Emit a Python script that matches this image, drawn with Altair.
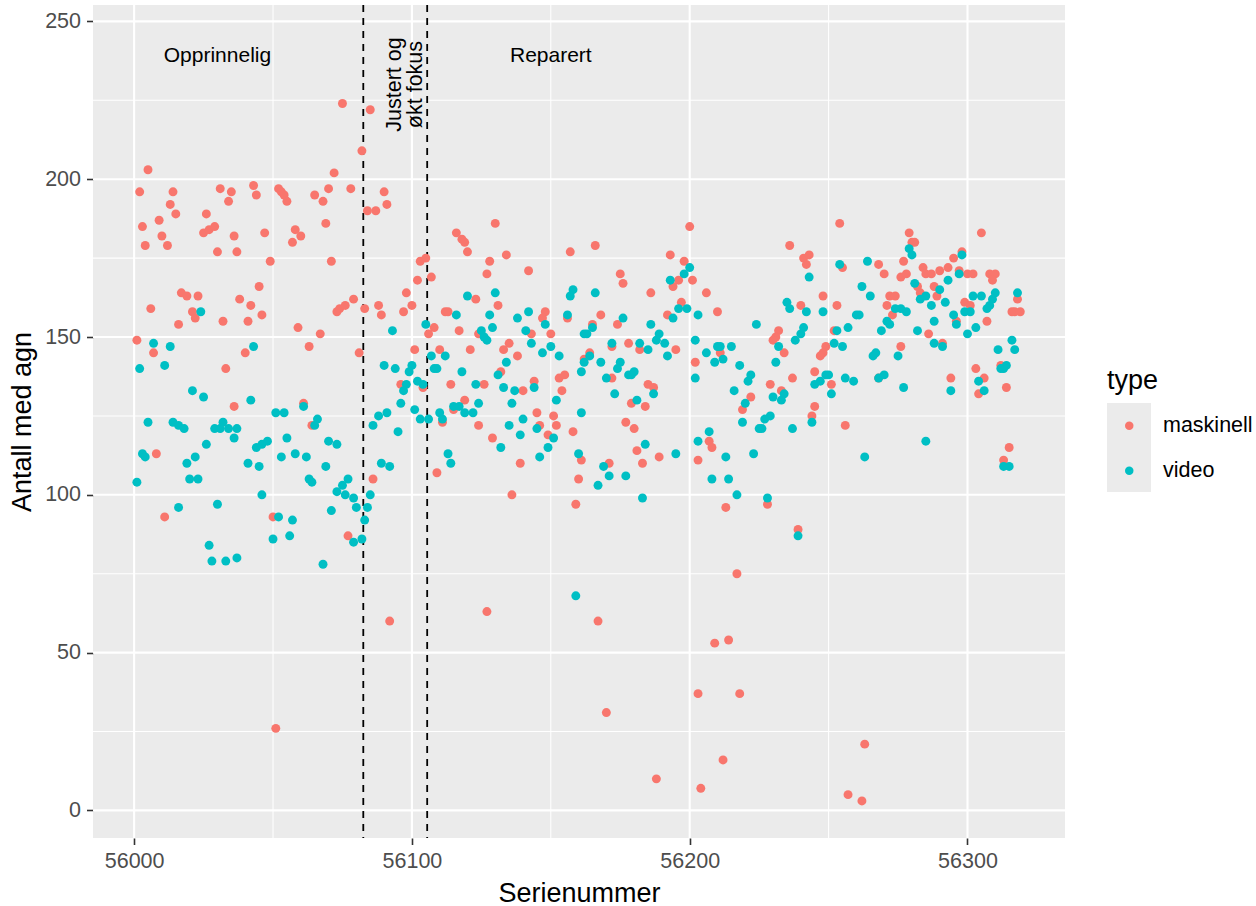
import altair as alt
import pandas as pd

# (serial number, count) per counting method
maskinell = [
    (56005, 203), (56002, 196), (56014, 196), (56013, 192), (56015, 189), (56009, 187), (56003, 185),
    (56010, 182), (56004, 179), (56012, 179), (56031, 197), (56035, 196), (56034, 193), (56026, 189),
    (56025, 183), (56027, 184), (56029, 185), (56036, 182), (56030, 177), (56037, 177), (56017, 164),
    (56019, 163), (56023, 163), (56038, 162), (56006, 159), (56021, 158), (56022, 156), (56032, 155),
    (56016, 154), (56001, 149), (56007, 145), (56033, 140), (56036, 128), (56008, 113), (56011, 93),
    (56075, 224), (56072, 202), (56043, 198), (56044, 195), (56052, 197), (56053, 196), (56054, 195),
    (56055, 193), (56065, 195), (56068, 193), (56070, 197), (56078, 197), (56069, 186), (56047, 183),
    (56058, 184), (56060, 182), (56057, 180), (56049, 174), (56071, 174), (56045, 166), (56042, 160),
    (56046, 157), (56041, 155), (56073, 158), (56074, 159), (56076, 160), (56079, 162), (56059, 153),
    (56067, 151), (56040, 145), (56063, 147), (56061, 129), (56064, 122), (56050, 93), (56077, 87),
    (56051, 26),
    (56085, 222), (56082, 209), (56090, 196), (56091, 192), (56084, 190), (56087, 190), (56116, 183),
    (56118, 181), (56119, 180), (56120, 177), (56103, 174), (56105, 175), (56102, 168), (56107, 169),
    (56083, 159), (56088, 160), (56089, 157), (56098, 164), (56097, 158), (56100, 160), (56112, 158),
    (56113, 158), (56117, 152), (56108, 153), (56106, 151), (56081, 145), (56101, 146), (56110, 146),
    (56121, 146), (56096, 135), (56104, 134), (56114, 135), (56119, 130), (56115, 127), (56111, 123),
    (56086, 105), (56109, 107), (56092, 60),
    (56130, 186), (56134, 176), (56128, 174), (56127, 170), (56142, 171), (56157, 177), (56123, 162),
    (56131, 160), (56148, 158), (56147, 156), (56156, 156), (56143, 151), (56150, 151), (56124, 151),
    (56135, 148), (56133, 146), (56138, 144), (56162, 143), (56132, 139), (56153, 137), (56155, 138),
    (56126, 135), (56144, 136), (56140, 133), (56154, 133), (56145, 126), (56151, 125), (56124, 122),
    (56146, 122), (56152, 122), (56149, 119), (56158, 120), (56129, 118), (56139, 110), (56161, 111),
    (56160, 105), (56136, 100), (56159, 97), (56127, 63), (56167, 60), (56170, 31), (56188, 10),
    (56200, 185), (56166, 179), (56193, 176), (56198, 174), (56175, 170), (56176, 167), (56196, 168),
    (56194, 166), (56201, 168), (56186, 164), (56197, 161), (56168, 157), (56165, 154), (56174, 154),
    (56192, 157), (56172, 147), (56178, 148), (56182, 146), (56164, 145), (56195, 146), (56202, 142),
    (56172, 137), (56185, 135), (56187, 134), (56179, 129), (56184, 128), (56177, 123), (56180, 121),
    (56181, 114), (56189, 112), (56171, 110), (56183, 110), (56203, 111),
    (56236, 179), (56241, 175), (56243, 176), (56242, 173), (56206, 164), (56210, 158), (56240, 160),
    (56232, 152), (56231, 150), (56230, 149), (56234, 145), (56211, 145), (56237, 137), (56229, 135),
    (56233, 133), (56222, 131), (56219, 127), (56245, 139), (56245, 128), (56207, 117), (56208, 115),
    (56244, 125), (56213, 96), (56228, 97), (56239, 89), (56217, 75), (56203, 37), (56204, 7),
    (56209, 53), (56212, 16), (56214, 54), (56218, 37), (56257, 5), (56262, 3), (56263, 21),
    (56254, 186), (56279, 183), (56280, 180), (56281, 180), (56255, 172), (56268, 173), (56270, 170),
    (56277, 174), (56276, 169), (56278, 170), (56284, 172), (56285, 170), (56248, 163), (56282, 166),
    (56283, 164), (56272, 163), (56274, 163), (56271, 160), (56253, 160), (56252, 152), (56273, 157),
    (56286, 151), (56249, 147), (56248, 145), (56247, 144), (56276, 147), (56251, 135), (56268, 137),
    (56256, 122),
    (56305, 183), (56298, 177), (56295, 175), (56293, 172), (56290, 171), (56287, 170), (56297, 171),
    (56300, 170), (56302, 170), (56308, 170), (56310, 170), (56309, 168), (56288, 166), (56289, 163),
    (56299, 161), (56301, 160), (56318, 162), (56296, 155), (56307, 155), (56316, 158), (56317, 158),
    (56319, 158), (56291, 148), (56303, 140), (56306, 137), (56294, 137), (56312, 141), (56304, 132),
    (56314, 134), (56315, 115), (56313, 111),
]

video = [
    (56007, 148), (56013, 147), (56002, 140), (56011, 141), (56024, 158), (56021, 133), (56025, 131),
    (56005, 123), (56014, 123), (56016, 122), (56018, 121), (56029, 121), (56031, 121), (56032, 123),
    (56034, 121), (56036, 118), (56037, 121), (56026, 116), (56003, 113), (56004, 112), (56022, 112),
    (56019, 110), (56001, 104), (56020, 105), (56023, 105), (56016, 96), (56030, 97), (56027, 84),
    (56028, 79), (56033, 79), (56037, 80),
    (56043, 147), (56042, 130), (56051, 126), (56054, 126), (56061, 128), (56066, 124), (56065, 122),
    (56044, 115), (56046, 116), (56048, 117), (56055, 118), (56070, 117), (56073, 116), (56041, 110),
    (56045, 109), (56053, 112), (56058, 113), (56062, 112), (56069, 109), (56063, 105), (56064, 104),
    (56077, 105), (56073, 101), (56075, 103), (56076, 100), (56046, 100), (56079, 99), (56071, 95),
    (56052, 93), (56057, 92), (56050, 86), (56056, 87), (56079, 85), (56068, 78),
    (56120, 163), (56116, 157), (56093, 152), (56105, 154), (56107, 144), (56112, 144), (56090, 141),
    (56094, 140), (56100, 141), (56099, 139), (56108, 140), (56109, 140), (56118, 139), (56098, 135),
    (56097, 133), (56102, 136), (56104, 135), (56096, 129), (56101, 127), (56103, 124), (56106, 124),
    (56110, 126), (56111, 124), (56115, 128), (56117, 128), (56119, 126), (56086, 122), (56088, 125),
    (56091, 126), (56095, 120), (56089, 110), (56092, 109), (56113, 113), (56114, 110), (56085, 100),
    (56080, 96), (56084, 96), (56083, 92), (56082, 86),
    (56130, 164), (56158, 165), (56157, 163), (56128, 157), (56142, 158), (56138, 156), (56156, 157),
    (56148, 154), (56125, 152), (56126, 150), (56127, 149), (56129, 153), (56141, 152), (56143, 148),
    (56162, 151), (56147, 145), (56150, 147), (56153, 144), (56134, 142), (56131, 138), (56161, 139),
    (56123, 135), (56133, 134), (56137, 133), (56144, 134), (56124, 129), (56136, 129), (56152, 130),
    (56122, 126), (56161, 126), (56140, 124), (56135, 122), (56139, 119), (56145, 121), (56151, 118),
    (56149, 115), (56132, 115), (56146, 112), (56160, 113), (56159, 68),
    (56200, 172), (56198, 170), (56193, 168), (56166, 164), (56196, 159), (56199, 159), (56194, 156),
    (56203, 157), (56176, 156), (56186, 154), (56165, 153), (56163, 151), (56189, 151), (56188, 149),
    (56191, 148), (56202, 149), (56172, 148), (56182, 148), (56185, 146), (56164, 144), (56192, 144),
    (56168, 142), (56175, 142), (56174, 140), (56162, 142), (56170, 137), (56178, 138), (56179, 138),
    (56180, 139), (56202, 137), (56173, 132), (56187, 132), (56181, 130), (56184, 116), (56195, 113),
    (56169, 109), (56171, 106), (56177, 106), (56167, 103), (56183, 99),
    (56243, 169), (56235, 161), (56236, 159), (56242, 158), (56224, 154), (56241, 153), (56240, 151),
    (56238, 149), (56232, 147), (56210, 147), (56211, 147), (56215, 147), (56206, 145), (56209, 142),
    (56212, 143), (56218, 141), (56231, 142), (56222, 138), (56221, 136), (56216, 133), (56230, 131),
    (56234, 132), (56233, 130), (56220, 129), (56245, 135), (56219, 123), (56229, 125), (56227, 124),
    (56225, 121), (56226, 121), (56237, 121), (56244, 123), (56207, 120), (56203, 117), (56213, 112),
    (56223, 113), (56208, 105), (56214, 105), (56217, 100), (56228, 99), (56239, 87),
    (56279, 178), (56280, 176), (56254, 173), (56264, 174), (56262, 166), (56281, 167), (56283, 162),
    (56285, 163), (56265, 163), (56248, 158), (56260, 157), (56261, 157), (56274, 159), (56276, 159),
    (56278, 158), (56271, 155), (56272, 154), (56253, 152), (56257, 153), (56269, 152), (56282, 152),
    (56252, 148), (56255, 147), (56267, 145), (56266, 144), (56275, 144), (56250, 138), (56249, 138),
    (56247, 136), (56256, 137), (56259, 136), (56268, 137), (56270, 138), (56277, 134), (56251, 132),
    (56285, 117), (56263, 112),
    (56298, 176), (56297, 170), (56293, 168), (56290, 165), (56287, 160), (56292, 161), (56302, 163),
    (56305, 163), (56310, 164), (56309, 162), (56308, 160), (56307, 159), (56318, 164), (56299, 158),
    (56301, 158), (56288, 155), (56295, 157), (56296, 154), (56303, 153), (56300, 151), (56288, 148),
    (56291, 147), (56316, 149), (56311, 146), (56317, 146), (56314, 141), (56313, 140), (56312, 140),
    (56304, 136), (56306, 133), (56294, 133), (56313, 109), (56315, 109),
]

type_names = ["maskinell", "video"]
type_colors = ["#F8766D", "#00BFC4"]

x_major = [56000, 56100, 56200, 56300]
x_minor = [56050, 56150, 56250]
y_major = [0, 50, 100, 150, 200, 250]
y_minor = [25, 75, 125, 175, 225]

# phase boundaries and phase names
phase_breaks = [56082.5, 56105.5]
phase_labels = ["Opprinnelig", "Reparert"]
phase_label_x = [56030, 56150]
phase_label_y = [239, 239]
mid_label = "Justert og\nøkt fokus"
mid_label_x = [56093.8]
mid_label_y = [230]

FONT = "Liberation Sans"
PANEL = "#EBEBEB"

x_scale = alt.Scale(domain=[55985.2, 56335.1], nice=False, zero=False)
y_scale = alt.Scale(domain=[-8.74, 255.2], nice=False, zero=False)

x_axis = alt.Axis(
    values=x_major, format="d", title="Serienummer", grid=False, domain=False,
    tickColor="#333333", tickWidth=1.6, tickSize=6.5, labelPadding=6,
    labelFont=FONT, labelFontSize=21.5, labelColor="#4D4D4D", labelFlush=False,
    labelOverlap=False, titleFont=FONT, titleFontSize=27, titleFontWeight="normal",
    titleColor="black", titleX=486, titleY=55, titleBaseline="middle", titleAlign="center",
)
y_axis = alt.Axis(
    values=y_major, format="d", title="Antall med agn", grid=False, domain=False,
    tickColor="#333333", tickWidth=1.6, tickSize=6.5, labelPadding=6,
    labelFont=FONT, labelFontSize=21.5, labelColor="#4D4D4D", labelFlush=False,
    labelOverlap=False, titleFont=FONT, titleFontSize=27, titleFontWeight="normal",
    titleColor="black", titleAngle=270, titleX=-71, titleY=416.5,
    titleBaseline="middle", titleAlign="center",
)


def xe(field):
    return alt.X(field, type="quantitative", scale=x_scale, axis=x_axis)


def ye(field):
    return alt.Y(field, type="quantitative", scale=y_scale, axis=y_axis)


points = pd.DataFrame(
    [{"Serienummer": s, "Antall": a, "type": "maskinell"} for s, a in maskinell]
    + [{"Serienummer": s, "Antall": a, "type": "video"} for s, a in video]
)

# panel grid
vminor = alt.Chart(pd.DataFrame({"Serienummer": x_minor})).mark_rule(
    color="white", strokeWidth=1.05).encode(x=xe("Serienummer"))
hminor = alt.Chart(pd.DataFrame({"Antall": y_minor})).mark_rule(
    color="white", strokeWidth=1.05).encode(y=ye("Antall"))
vmajor = alt.Chart(pd.DataFrame({"Serienummer": x_major})).mark_rule(
    color="white", strokeWidth=2.1).encode(x=xe("Serienummer"))
hmajor = alt.Chart(pd.DataFrame({"Antall": y_major})).mark_rule(
    color="white", strokeWidth=2.1).encode(y=ye("Antall"))

breaks = alt.Chart(pd.DataFrame({"Serienummer": phase_breaks})).mark_rule(
    color="black", strokeWidth=1.8, strokeDash=[7, 6]).encode(x=xe("Serienummer"))

dots = alt.Chart(points).mark_circle(size=80, opacity=1).encode(
    x=xe("Serienummer"),
    y=ye("Antall"),
    color=alt.Color(
        "type:N",
        scale=alt.Scale(domain=type_names, range=type_colors),
        legend=alt.Legend(
            title="type", orient="none", legendX=1014, legendY=363, padding=0,
            titleFont=FONT, titleFontSize=27, titleFontWeight="normal", titleColor="black",
            titlePadding=20, labelFont=FONT, labelFontSize=21.5, labelColor="black",
            symbolType="circle", symbolSize=72, symbolOffset=11.5, symbolStrokeWidth=0,
            labelOffset=23, rowPadding=22,
        ),
    ),
)

phase_text = alt.Chart(pd.DataFrame({
    "Serienummer": phase_label_x, "Antall": phase_label_y, "label": phase_labels,
})).mark_text(font=FONT, fontSize=21, color="black", align="center", baseline="middle").encode(
    x=xe("Serienummer"), y=ye("Antall"), text="label:N")

mid_text = alt.Chart(pd.DataFrame({
    "Serienummer": mid_label_x, "Antall": mid_label_y, "label": [mid_label],
})).mark_text(font=FONT, fontSize=21.5, color="black", align="center", baseline="middle",
              angle=270, lineBreak="\n", lineHeight=21).encode(
    x=xe("Serienummer"), y=ye("Antall"), text="label:N")

# grey backdrop behind the legend keys
key_box = alt.Chart(pd.DataFrame({"k": [0]})).mark_rect(color=PANEL).encode(
    x=alt.value(1014), x2=alt.value(1058), y=alt.value(398), y2=alt.value(487))

chart = alt.layer(
    vminor, hminor, vmajor, hmajor, breaks, key_box, dots, phase_text, mid_text
).properties(
    width=972, height=833,
    padding={"left": 93, "top": 5, "right": 191, "bottom": 68},
    autosize=alt.AutoSizeParams(type="none"),
    background="white",
).configure_view(fill=PANEL, strokeWidth=0)

chart.save("out.html", embed_options={"renderer": "svg", "actions": False})
